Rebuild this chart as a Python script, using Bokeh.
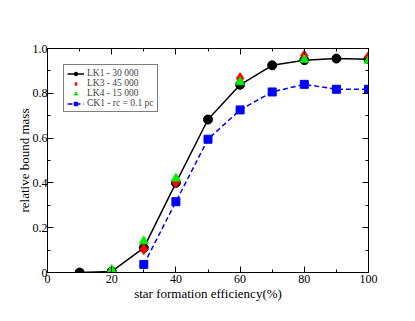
from bokeh.plotting import figure
from bokeh.models import Range1d, FixedTicker, LinearAxis, Legend, LegendItem
from bokeh.embed import file_html
from bokeh.resources import INLINE

# data
lk1_x = [10, 20, 30, 40, 50, 60, 70, 80, 90, 100]
lk1_y = [0.0, 0.005, 0.11, 0.40, 0.683, 0.838, 0.925, 0.948, 0.955, 0.952]
lk3_x = [20, 30, 40, 60, 80, 100]
lk3_y = [0.0, 0.104, 0.403, 0.867, 0.968, 0.963]
lk4_x = [20, 30, 40, 60, 80, 100]
lk4_y = [0.012, 0.14, 0.42, 0.85, 0.95, 0.946]
ck1_x = [30, 40, 50, 60, 70, 80, 90, 100]
ck1_y = [0.036, 0.316, 0.595, 0.726, 0.806, 0.84, 0.818, 0.818]

x_ticks = [0, 20, 40, 60, 80, 100]
x_minor = [10, 30, 50, 70, 90]
y_ticks = [0, 0.2, 0.4, 0.6, 0.8, 1.0]
y_labels = ["0", "0.2", "0.4", "0.6", "0.8", "1.0"]
y_minor = [0.1, 0.3, 0.5, 0.7, 0.9]

FONT = "Liberation Serif"

p = figure(width=407, height=313, output_backend="svg", toolbar_location=None,
           x_range=Range1d(0, 100), y_range=Range1d(0, 1.0),
           x_axis_label="star formation efficiency(%)", y_axis_label="relative bound mass",
           min_border_left=47, min_border_right=39, min_border_top=48, min_border_bottom=41)
p.xgrid.visible = False
p.ygrid.visible = False
p.outline_line_color = "black"
p.outline_line_width = 1

bottom = p.below[0]
left = p.left[0]
bottom.ticker = FixedTicker(ticks=x_ticks, minor_ticks=x_minor)
left.ticker = FixedTicker(ticks=y_ticks, minor_ticks=y_minor)
left.major_label_overrides = {t: l for t, l in zip(y_ticks, y_labels)}

top = LinearAxis(ticker=FixedTicker(ticks=x_ticks, minor_ticks=x_minor))
right = LinearAxis(ticker=FixedTicker(ticks=y_ticks, minor_ticks=y_minor))
top.major_label_overrides = {t: "" for t in x_ticks}
right.major_label_overrides = {t: "" for t in y_ticks}
p.add_layout(top, "above")
p.add_layout(right, "right")

for ax in [bottom, left, top, right]:
    ax.axis_line_color = "black"
    ax.major_tick_line_color = "black"
    ax.minor_tick_line_color = "black"
    ax.major_tick_in = 6
    ax.major_tick_out = 0
    ax.minor_tick_in = 3
    ax.minor_tick_out = 0
    ax.major_label_text_font = FONT
    ax.major_label_text_font_size = "12px"
    ax.major_label_text_color = "black"
    ax.axis_label_text_font = FONT
    ax.axis_label_text_font_size = "13px"
    ax.axis_label_text_font_style = "normal"
    ax.axis_label_text_color = "black"
    ax.major_label_standoff = 2
    ax.axis_label_standoff = 0

left.major_label_standoff = 0
left.axis_label_standoff = -2

for ax in [top, right]:
    ax.major_label_standoff = 0
    ax.axis_label_standoff = 0

r1l = p.line(lk1_x, lk1_y, line_color="black", line_width=1.5)
r1m = p.scatter(lk1_x, lk1_y, marker="circle", size=9, fill_color="black", line_color="black")
r3 = p.scatter(lk3_x, lk3_y, marker="diamond", size=11, fill_color="red", line_color="red")
r4 = p.scatter(lk4_x, lk4_y, marker="triangle", size=9, fill_color="#00ee00", line_color="#00ee00")
rcl = p.line(ck1_x, ck1_y, line_color="blue", line_width=1.5, line_dash="5 3")
rcm = p.scatter(ck1_x, ck1_y, marker="square", size=8, fill_color="blue", line_color="blue")

legend = Legend(items=[
    LegendItem(label="LK1 - 30 000", renderers=[r1l, r1m]),
    LegendItem(label="LK3 - 45 000", renderers=[r3]),
    LegendItem(label="LK4 - 15 000", renderers=[r4]),
    LegendItem(label="CK1 - rc = 0.1 pc", renderers=[rcl, rcm]),
], location=(16, 160))
legend.label_text_font = FONT
legend.label_text_font_size = "9.5px"
legend.label_height = 9
legend.glyph_height = 9
legend.glyph_width = 17
legend.label_standoff = 3
legend.spacing = 0
legend.padding = 3
legend.margin = 0
legend.border_line_color = "black"
legend.border_line_width = 1
legend.background_fill_color = "white"
legend.background_fill_alpha = 1
p.add_layout(legend, "center")

open("out.html", "w").write(file_html(p, INLINE))
